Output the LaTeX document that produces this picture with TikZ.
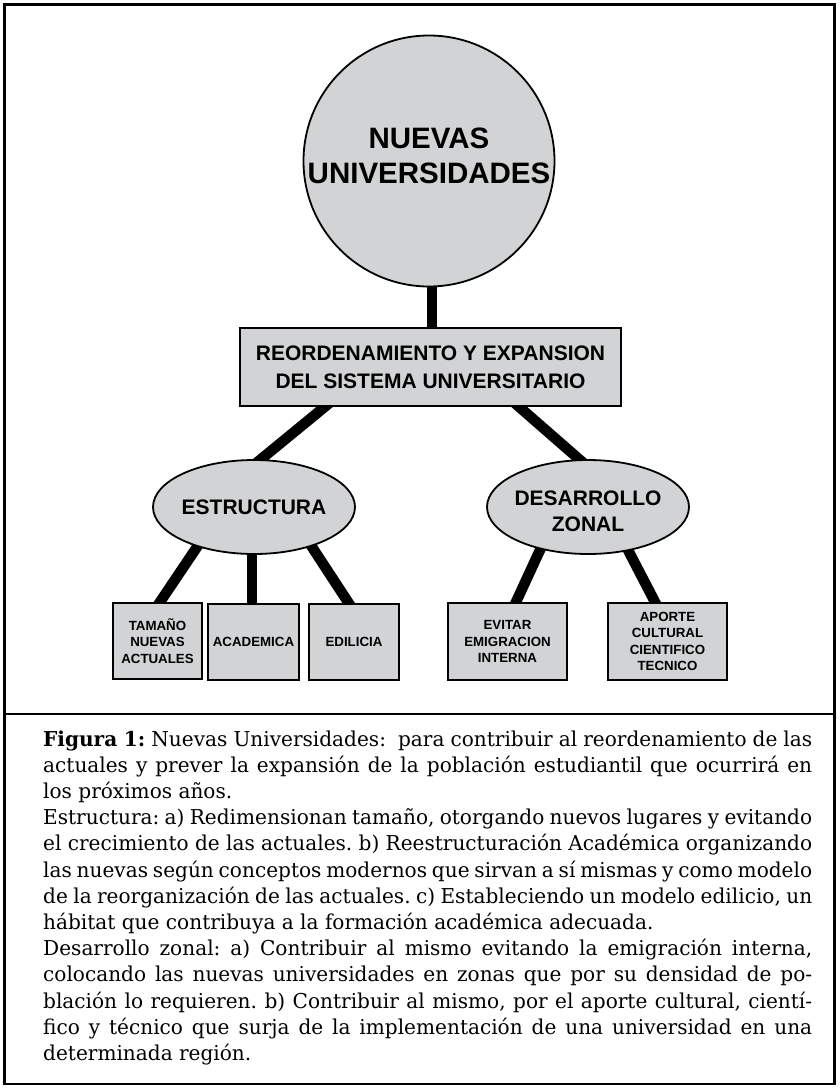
\documentclass[tikz,border=0pt]{standalone}
\usepackage{fontspec}
\setmainfont{DejaVu Serif}[FakeStretch=0.98]
\newfontfamily\diagfont{Liberation Sans}
\usetikzlibrary{shapes.geometric,calc,backgrounds}
\definecolor{boxgray}{HTML}{D1D3D4}
\tikzset{
  shapeline/.style={draw=black, fill=boxgray, line width=1.8pt, inner sep=0pt},
  rectbox/.style={shapeline, rectangle, minimum height=77pt},
  ovalbox/.style={shapeline, ellipse, minimum width=202pt, minimum height=94pt},
  bigtxt/.style={font=\diagfont\bfseries\fontsize{21}{28}\selectfont, align=center, inner sep=0pt},
  smalltxt/.style={font=\diagfont\bfseries\fontsize{13.3}{16.2}\selectfont, align=center},
  conn/.style={line width=10.5pt, black},
  capline/.style={anchor=base west, inner sep=0pt, font=\frenchspacing\fontsize{20.5}{26.2}\selectfont},
  frameline/.style={line width=2.5pt, black}
}
\begin{document}
\begin{tikzpicture}[x=1pt,y=-1pt]
\useasboundingbox (0,0) rectangle (839,1088);
% frame
\draw[frameline] (4.5,4.5) rectangle (834.5,1084);
\draw[frameline] (4.5,714) -- (834.5,714);

% nodes
\node[shapeline, circle, minimum size=251pt] (nu) at (429,161) {};
\node[font=\diagfont\bfseries\fontsize{29.5}{35}\selectfont, align=center, inner sep=0pt] (nut) at (429,155.5) {NUEVAS\\UNIVERSIDADES};

\node[rectbox, minimum width=381pt, minimum height=78pt, bigtxt] (r) at (430.5,367) {REORDENAMIENTO Y EXPANSION\\DEL SISTEMA UNIVERSITARIO};

\node[ovalbox] (es) at (254,507) {};
\node[bigtxt] (est) at (254,507) {ESTRUCTURA};
\node[ovalbox] (dz) at (588,507) {};
\node[bigtxt, font=\diagfont\bfseries\fontsize{21}{26}\selectfont] (dzt) at (588,511) {DESARROLLO\\ZONAL};

\node[rectbox, minimum width=89pt, minimum height=76pt, smalltxt] (b1) at (157.5,641) {TAMAÑO\\NUEVAS\\ACTUALES};
\node[rectbox, minimum width=91pt, minimum height=76pt, smalltxt] (b2) at (253.5,642) {ACADEMICA};
\node[rectbox, minimum width=90pt, minimum height=76pt, smalltxt] (b3) at (354,642) {EDILICIA};
\node[rectbox, minimum width=119pt, minimum height=77pt, smalltxt] (b4) at (507.5,641.5) {EVITAR\\EMIGRACION\\INTERNA};
\node[rectbox, minimum width=119pt, minimum height=77pt, smalltxt] (b5) at (667.5,641.5) {APORTE\\CULTURAL\\CIENTIFICO\\TECNICO};

% connectors (behind shapes)
\begin{scope}[on background layer]
\draw[conn] ($(nu.south)+(3,-20)$) -- ($(r.north)+(1.5,10)$);
\draw[conn] ($(r.center)+(-96.8,32.5)$) -- ($(es.center)+(-7.4,-36)$);
\draw[conn] ($(r.center)+(80.2,32.5)$) -- ($(dz.center)+(4.6,-36)$);
\draw[conn] ($(es.center)+(-49.6,29)$) -- ($(b1.center)+(-1.2,-33.5)$);
\draw[conn] ($(es.center)+(-2,33)$) -- ($(b2.center)+(-1.5,-35)$);
\draw[conn] ($(es.center)+(50.8,29)$) -- ($(b3.center)+(-2.4,-34.5)$);
\draw[conn] ($(dz.center)+(-43.2,32.6)$) -- ($(b4.center)+(6.1,-34.3)$);
\draw[conn] ($(dz.center)+(34.6,32.6)$) -- ($(b5.center)+(-9.8,-34.3)$);
\end{scope}

% caption
\node[capline] (c1) at (43,746) {\makebox[769pt][s]{\textbf{Figura 1:} Nuevas Universidades:\ \ para contribuir al reordenamiento de las}};
\node[capline] (c2) at (43,772.2) {\makebox[769pt][s]{actuales y prever la expansión de la población estudiantil que ocurrirá en}};
\node[capline] (c3) at (43,798.4) {los próximos años.};
\node[capline] (c4) at (43,824.6) {\makebox[769pt][s]{Estructura: a) Redimensionan tamaño, otorgando nuevos lugares y evitando}};
\node[capline] (c5) at (43,850.8) {\makebox[769pt][s]{el crecimiento de las actuales. b) Reestructuración Académica organizando}};
\node[capline] (c6) at (43,877.0) {\makebox[769pt][s]{las nuevas según conceptos modernos que sirvan a sí mismas y como modelo}};
\node[capline] (c7) at (43,903.2) {\makebox[769pt][s]{de la reorganización de las actuales. c) Estableciendo un modelo edilicio, un}};
\node[capline] (c8) at (43,929.4) {hábitat que contribuya a la formación académica adecuada.};
\node[capline] (c9) at (43,955.6) {\makebox[769pt][s]{Desarrollo zonal: a) Contribuir al mismo evitando la emigración interna,}};
\node[capline] (c10) at (43,981.8) {\makebox[769pt][s]{colocando las nuevas universidades en zonas que por su densidad de po-}};
\node[capline] (c11) at (43,1008.0) {\makebox[769pt][s]{blación lo requieren. b) Contribuir al mismo, por el aporte cultural, cientí-}};
\node[capline] (c12) at (43,1034.2) {\makebox[769pt][s]{fico y técnico que surja de la implementación de una universidad en una}};
\node[capline] (c13) at (43,1060.4) {determinada región.};
\end{tikzpicture}
\end{document}
